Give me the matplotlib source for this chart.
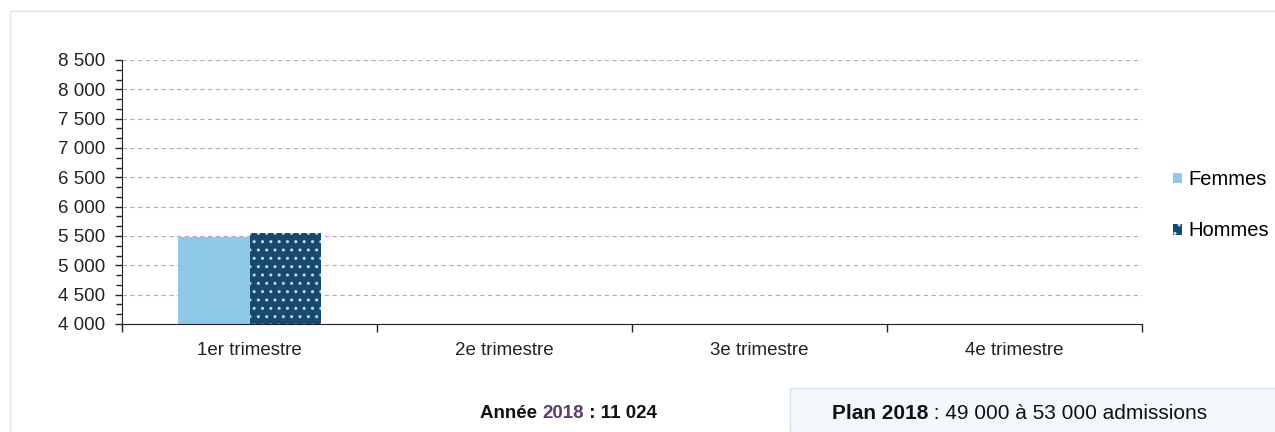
import numpy as np
import matplotlib.pyplot as plt
from matplotlib.patches import Rectangle
from matplotlib.ticker import MultipleLocator, FuncFormatter

plt.rcParams['font.family'] = ['Liberation Sans', 'DejaVu Sans']
plt.rcParams['hatch.linewidth'] = 1.0

categories = ["1er trimestre", "2e trimestre", "3e trimestre", "4e trimestre"]
femmes = [5480, np.nan, np.nan, np.nan]
hommes = [5544, np.nan, np.nan, np.nan]
series_names = ["Femmes", "Hommes"]
annee_label = "2018"
annee_total = "11 024"
plan_text = ": 49 000 à 53 000 admissions"

fig = plt.figure(figsize=(12.75, 4.32), dpi=100)
fig.patch.set_facecolor("white")

# light panel border
fig.patches.append(Rectangle((10 / 1275, -0.01), 1.2, 1 - 11 / 432 + 0.01, transform=fig.transFigure,
                             fill=False, edgecolor="#d7e7f1", linewidth=1.0, zorder=-2))

ax = fig.add_axes([122 / 1275, 1 - 324 / 432, 1020 / 1275, 264 / 432])

x = np.arange(len(categories))
w = 0.28
ax.bar(x - w / 2, femmes, w, color="#8ecae8", label=series_names[0], linewidth=0)
ax.bar(x + w / 2, hommes, w, color="#174a6e", label=series_names[1],
       hatch="..", edgecolor="#c9d8e4", linewidth=0)

ax.set_xlim(-0.5, len(categories) - 0.5)
ax.set_ylim(4000, 8500)
ax.yaxis.set_major_locator(MultipleLocator(500))
ax.yaxis.set_minor_locator(MultipleLocator(500 / 3))
ax.yaxis.set_major_formatter(FuncFormatter(lambda v, p: f"{int(v):,}".replace(",", " ")))
ax.grid(axis="y", which="major", linestyle=(0, (4, 3)), color="#b8a8c4", linewidth=0.8)
ax.set_axisbelow(True)

ax.set_xticks(x)
ax.set_xticklabels(categories)
ax.set_xticks(np.arange(len(categories) + 1) - 0.5, minor=True)
ax.tick_params(axis="x", which="major", length=0, pad=13, labelsize=13.5, colors="#222222")
ax.tick_params(axis="x", which="minor", length=6, width=1, color="#222222")
ax.tick_params(axis="y", which="major", length=5, width=1, labelsize=13.5, pad=7, colors="#222222")
ax.tick_params(axis="y", which="minor", length=4, width=1, color="#222222")

for s in ["top", "right"]:
    ax.spines[s].set_visible(False)
ax.spines["left"].set_color("#222222")
ax.spines["bottom"].set_color("#222222")

leg = ax.legend(loc="center left", bbox_to_anchor=(1.013, 0.45), frameon=False, fontsize=14.5,
                handlelength=0.45, handleheight=0.45, handletextpad=0.3, labelspacing=1.6)

# bottom summary text
t1 = fig.text(480 / 1275, 1 - 418 / 432, "Année ", fontsize=13.5, fontweight="bold", color="#111111")
t2 = ax.annotate(annee_label, xy=(1, 0), xycoords=t1, fontsize=13.5, fontweight="bold",
                 color="#5e3d6e", va="bottom", ha="left", annotation_clip=False)
ax.annotate(" : " + annee_total, xy=(1, 0), xycoords=t2, fontsize=13.5, fontweight="bold",
            color="#111111", va="bottom", ha="left", annotation_clip=False)

# plan box
fig.patches.append(Rectangle((790 / 1275, 0), 0.4, 1 - 388 / 432, transform=fig.transFigure,
                             facecolor="#f1f7fb", edgecolor="#d5e6f0", linewidth=1.0, zorder=-1))
p1 = fig.text(832 / 1275, 1 - 419 / 432, "Plan 2018", fontsize=15, fontweight="bold", color="#111111")
ax.annotate(" " + plan_text, xy=(1, 0), xycoords=p1, fontsize=15, color="#111111",
            va="bottom", ha="left", annotation_clip=False)

fig.savefig("out.png", dpi=100)
